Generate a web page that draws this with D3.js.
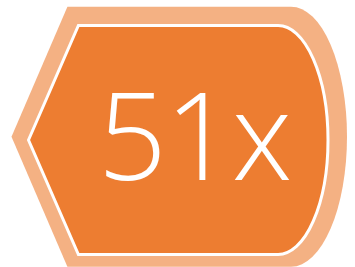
<!DOCTYPE html>
<html><head><meta charset="utf-8">
<script src="https://cdn.jsdelivr.net/npm/d3@7"></script>
<style>html,body{margin:0;padding:0;background:#fff;}svg{display:block;}</style>
</head><body>
<script>
const labels = ["51x"];
const values = [51];
const layers = ["outer", "inner"];
const layerColors = ["#F4B183", "#ED7D31"];

const W = 355, H = 267;
const svg = d3.select("body").append("svg").attr("width", W).attr("height", H);

// box extents for each layer (pixels)
const boxes = {
  outer: {x: [11.5, 347], y: [6.7, 266.7]},
  inner: {x: [28.5, 328], y: [25.5, 254.5]}
};

function displayPath(b) {
  const x = d3.scaleLinear().domain([0, 1]).range(b.x);
  const y = d3.scaleLinear().domain([0, 1]).range(b.y);
  const rx = x(1) - x(5 / 6), ry = (y(1) - y(0)) / 2;
  return `M${x(0)},${y(0.5)} L${x(1/6)},${y(0)} L${x(5/6)},${y(0)} ` +
         `A${rx},${ry} 0 0 1 ${x(5/6)},${y(1)} L${x(1/6)},${y(1)} Z`;
}

svg.append("path").attr("d", displayPath(boxes.outer)).attr("fill", layerColors[0]);
svg.append("path").attr("d", displayPath(boxes.inner)).attr("fill", layerColors[1])
  .attr("stroke", "#fff").attr("stroke-width", 3);

svg.append("text")
  .attr("x", 194).attr("y", 180)
  .attr("text-anchor", "middle")
  .attr("fill", "#fff")
  .style("font-family", "'Open Sans', sans-serif")
  .style("font-weight", 300)
  .style("font-size", "121px")
  .style("letter-spacing", "-2px")
  .text(labels[0]);
</script>
</body></html>
